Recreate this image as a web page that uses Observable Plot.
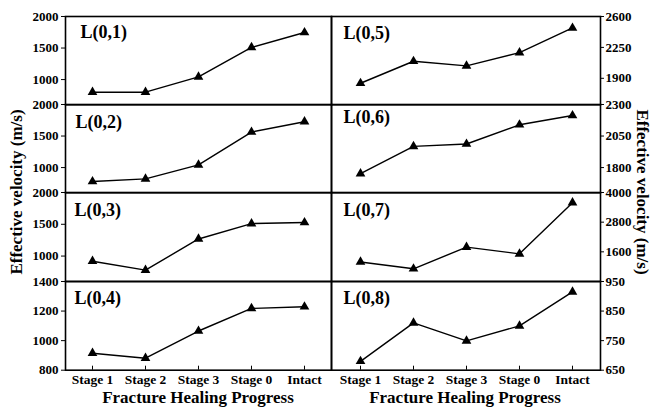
<!DOCTYPE html>
<html><head><meta charset="utf-8">
<script src="https://cdn.jsdelivr.net/npm/d3@7"></script>
<script src="https://cdn.jsdelivr.net/npm/@observablehq/plot@0.6"></script>
<style>
body{margin:0;background:#fff;}
#chart{position:relative;width:651px;height:411px;overflow:hidden;font-family:"Liberation Serif","Times New Roman",serif;font-weight:bold;color:#000;}
.p{position:absolute;}
.t{position:absolute;white-space:nowrap;font-size:17px;font-weight:bold;}
</style></head><body><div id="chart"></div>
<script>
// ---- data ----
const stages = ["Stage 1", "Stage 2", "Stage 3", "Stage 0", "Intact"];
const panelNames = ["L(0,1)", "L(0,2)", "L(0,3)", "L(0,4)", "L(0,5)", "L(0,6)", "L(0,7)", "L(0,8)"];
const v01 = [800, 800, 1043, 1510, 1746];
const v02 = [778, 820, 1043, 1563, 1727];
const v03 = [919, 779, 1269, 1511, 1527];
const v04 = [915, 881, 1065, 1218, 1229];
const v05 = [1844, 2093, 2041, 2191, 2470];
const v06 = [1752, 1968, 1987, 2139, 2213];
const v07 = [1190, 914, 1790, 1518, 3588];
const v08 = [680, 810, 749, 800, 915];
const dom01 = [600, 2000], dom02 = [600, 2000], dom03 = [600, 2000], dom04 = [800, 1400];
const dom05 = [1600, 2600], dom06 = [1600, 2300], dom07 = [400, 4000], dom08 = [650, 950];
const tk01 = [1000, 1500, 2000], tk02 = [1000, 1500, 2000], tk03 = [1000, 1500, 2000], tk04 = [800, 1000, 1200, 1400];
const tk05 = [1900, 2250, 2600], tk06 = [1800, 2050, 2300], tk07 = [1600, 2800, 4000], tk08 = [650, 750, 850, 950];
const yTitle = "Effective velocity (m/s)";
const xTitle = "Fracture Healing Progress";

// ---- layout ----
const rowEdges = [15.7, 104, 192.3, 281.3, 370];
const colL = [65, 331], colR = [331, 600];
const pad = 12;
const labelOffsets = [[15, 9], [10, 11], [9, 11], [9, 10], [12, 10], [12, 6], [12, 11], [12, 10]];

const values = [v01, v02, v03, v04, v05, v06, v07, v08];
const domains = [dom01, dom02, dom03, dom04, dom05, dom06, dom07, dom08];
const tickSets = [tk01, tk02, tk03, tk04, tk05, tk06, tk07, tk08];

const chart = document.getElementById("chart");
const font = '"Liberation Serif","Times New Roman",serif';

for (let i = 0; i < 8; i++) {
  const left = i < 4;
  const row = i % 4;
  const bottom = row === 3;
  const top = rowEdges[row], h = rowEdges[row + 1] - rowEdges[row];
  const [c0, c1] = left ? colL : colR;
  const w = c1 - c0;
  const mL = left ? 65 : pad, mR = left ? pad : 51;
  const mB = bottom ? 34 : pad;
  const data = stages.map((s, k) => ({stage: s, v: values[i][k]}));
  const marks = [
    Plot.frame({stroke: "black", strokeWidth: 1.6}),
    Plot.axisY({anchor: left ? "left" : "right", ticks: tickSets[i], tickFormat: d => String(d),
      tickSize: left ? 4 : 3, tickPadding: left ? 3 : 2,
      fontSize: 13, fontWeight: "bold", label: null}),
    Plot.line(data, {x: "stage", y: "v", stroke: "black", strokeWidth: 1.4}),
    Plot.dot(data, {x: "stage", y: "v", symbol: "triangle", r: 3.6, fill: "black", stroke: "none"}),
    Plot.text([panelNames[i]], {frameAnchor: "top-left", dx: labelOffsets[i][0], dy: labelOffsets[i][1],
      textAnchor: "start", lineAnchor: "top", fontSize: 18, fontWeight: "bold", fill: "black"})
  ];
  if (bottom) {
    marks.push(Plot.axisX({anchor: "bottom", tickSize: 0, tickPadding: 4, fontSize: 13.5, fontWeight: "bold", label: null}));
    marks.push(Plot.tickX(stages, {x: d => d, insetTop: h - 4, stroke: "black", strokeWidth: 1}));
  } else {
    marks.push(Plot.axisX({ticks: [], label: null}));
  }
  const plot = Plot.plot({
    width: w + mL + mR,
    height: h + pad + mB,
    marginLeft: mL, marginRight: mR, marginTop: pad, marginBottom: mB,
    x: {type: "point", domain: stages, padding: 0.5},
    y: {domain: domains[i]},
    style: {background: "transparent", fontFamily: font, fontWeight: "bold", color: "black"},
    marks
  });
  plot.classList.add("p");
  plot.style.left = (c0 - mL) + "px";
  plot.style.top = (top - pad) + "px";
  chart.appendChild(plot);
}

function addText(txt, cx, cy, rot) {
  const d = document.createElement("div");
  d.className = "t";
  d.textContent = txt;
  chart.appendChild(d);
  const r = d.getBoundingClientRect();
  d.style.left = (cx - r.width / 2) + "px";
  d.style.top = (cy - r.height / 2) + "px";
  if (rot) d.style.transform = `rotate(${rot}deg)`;
}
addText(yTitle, 17, 192, -90);
addText(yTitle, 642, 192, 90);
addText(xTitle, 198, 398, 0);
addText(xTitle, 465, 398, 0);
</script></body></html>
